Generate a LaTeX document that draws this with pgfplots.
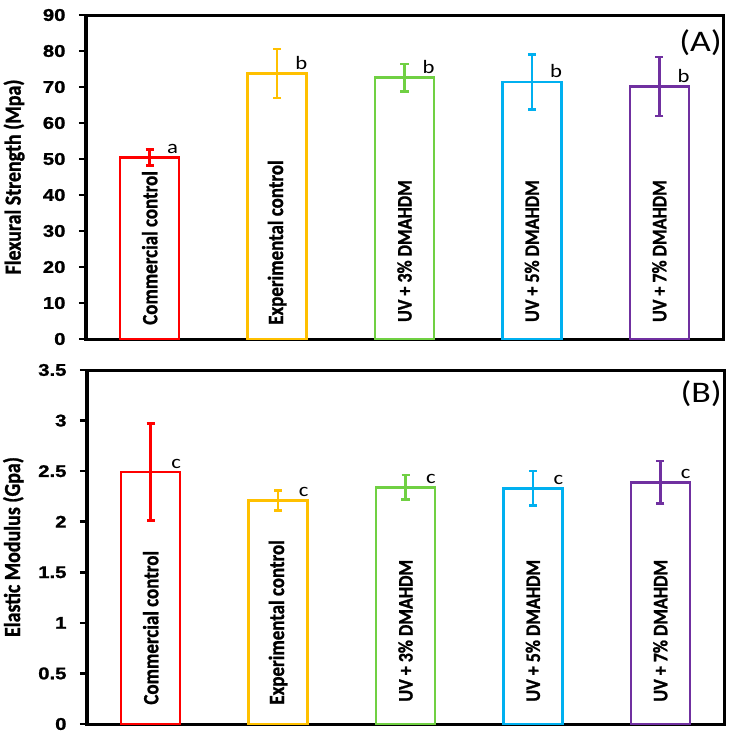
\documentclass[border=0pt]{standalone}
\usepackage{pgfplots}
\pgfplotsset{compat=1.18}
\usepackage{fontspec}
\usepackage{graphicx}
\setmainfont{Carlito}
\newfontfamily\carB[FakeBold=1.2]{Carlito Bold}
\newfontfamily\carS[FakeStretch=1.2]{Carlito}
\newfontfamily\arSB[FakeStretch=1.2,FakeBold=1.2]{Liberation Sans Bold}
\definecolor{cRed}{HTML}{FF0000}
\definecolor{cGold}{HTML}{FFC000}
\definecolor{cGreen}{HTML}{70D043}
\definecolor{cBlue}{HTML}{00B0F0}
\definecolor{cPurple}{HTML}{7030A0}
\pgfplotsset{
 panel/.style={
  scale only axis, width=637bp, xmin=-0.5, xmax=4.5, xtick=\empty, ymin=0,
  ytick pos=left, tick align=outside, major tick length=7bp,
  axis line style={line width=3bp},
  every tick/.style={black, line width=2.5bp},
  yticklabel style={font=\arSB\fontsize{17}{17}\selectfont, xshift=-10bp},
  /pgf/number format/assume math mode=true,
  every axis y label/.style={rotate=90, anchor=south, font=\carB\fontsize{20}{20}\selectfont},
  clip=false,
 },
 mybar/.style={ybar, bar width=59bp, bar shift=0pt, draw=#1, fill=white, line width=2.5bp,
   error bars/.cd, y dir=both, y explicit,
   error bar style={line width=2.5bp, #1},
   error mark options={rotate=90, mark size=4bp, line width=2.5bp, #1}},
}
\tikzset{
 inlab/.style={rotate=90, anchor=west, inner sep=0pt, font=\carB\fontsize{19}{19}\selectfont},
 inlabu/.style={rotate=90, anchor=west, inner sep=0pt, font=\carB\fontsize{18}{18}\selectfont},
 letlab/.style={anchor=base, inner sep=0pt, yshift=4bp, font=\carS\fontsize{19}{19}\selectfont},
}
\begin{document}
\begin{tikzpicture}
\useasboundingbox (0,0) rectangle (732bp,-735bp);
% ---------- Panel A ----------
\begin{axis}[panel, at={(86bp,-339bp)}, anchor=south west, height=324bp,
  ymax=90, ytick={0,10,...,90},
  ylabel={\scalebox{1}[1.15]{Flexural Strength (Mpa)}},
  every axis y label/.append style={at={(rel axis cs:-0.091,0.5)}}]
\addplot[mybar=cRed] coordinates {(0,50.4) +- (0,2.2)};
\addplot[mybar=cGold] coordinates {(1,73.7) +- (0,6.8)};
\addplot[mybar=cGreen] coordinates {(2,72.6) +- (0,3.8)};
\addplot[mybar=cBlue] coordinates {(3,71.4) +- (0,7.6)};
\addplot[mybar=cPurple] coordinates {(4,70.1) +- (0,8.2)};
\node[inlab] at (axis cs:0,3.9) {\scalebox{1}[1.15]{Commercial control}};
\node[inlab] at (axis cs:1,3.9) {\scalebox{1}[1.15]{Experimental control}};
\node[inlabu] at (axis cs:2,4.7) {\scalebox{1}[1.15]{UV + 3\% DMAHDM}};
\node[inlabu] at (axis cs:3,4.7) {\scalebox{1}[1.15]{UV + 5\% DMAHDM}};
\node[inlabu] at (axis cs:4,4.7) {\scalebox{1}[1.15]{UV + 7\% DMAHDM}};
\node[letlab] at (axis cs:0.18,50.4) {a};
\node[letlab] at (axis cs:1.19,73.7) {b};
\node[letlab] at (axis cs:2.19,72.6) {b};
\node[letlab] at (axis cs:3.19,71.4) {b};
\node[letlab] at (axis cs:4.19,70.1) {b};
\node[anchor=north east, inner sep=0pt, xshift=-1bp, yshift=-14bp, font=\carS\fontsize{30}{30}\selectfont] at (rel axis cs:1,1) {(A)};
\end{axis}
% ---------- Panel B ----------
\begin{axis}[panel, at={(87bp,-724bp)}, anchor=south west, height=354bp,
  ymax=3.5, ytick={0,0.5,...,3.5},
  ylabel={\scalebox{1}[1.15]{Elastic Modulus (Gpa)}},
  every axis y label/.append style={at={(rel axis cs:-0.094,0.5)}}]
\addplot[mybar=cRed] coordinates {(0,2.49) +- (0,0.48)};
\addplot[mybar=cGold] coordinates {(1,2.21) +- (0,0.10)};
\addplot[mybar=cGreen] coordinates {(2,2.34) +- (0,0.12)};
\addplot[mybar=cBlue] coordinates {(3,2.33) +- (0,0.17)};
\addplot[mybar=cPurple] coordinates {(4,2.39) +- (0,0.21)};
\node[inlab] at (axis cs:0,0.19) {\scalebox{1}[1.15]{Commercial control}};
\node[inlab] at (axis cs:1,0.19) {\scalebox{1}[1.15]{Experimental control}};
\node[inlabu] at (axis cs:2,0.22) {\scalebox{1}[1.15]{UV + 3\% DMAHDM}};
\node[inlabu] at (axis cs:3,0.22) {\scalebox{1}[1.15]{UV + 5\% DMAHDM}};
\node[inlabu] at (axis cs:4,0.22) {\scalebox{1}[1.15]{UV + 7\% DMAHDM}};
\node[letlab] at (axis cs:0.2,2.49) {c};
\node[letlab] at (axis cs:1.2,2.21) {c};
\node[letlab] at (axis cs:2.2,2.34) {c};
\node[letlab] at (axis cs:3.2,2.33) {c};
\node[letlab] at (axis cs:4.2,2.39) {c};
\node[anchor=north east, inner sep=0pt, xshift=-2bp, yshift=-10bp, font=\carS\fontsize{30}{30}\selectfont] at (rel axis cs:1,1) {(B)};
\end{axis}
\end{tikzpicture}
\end{document}
